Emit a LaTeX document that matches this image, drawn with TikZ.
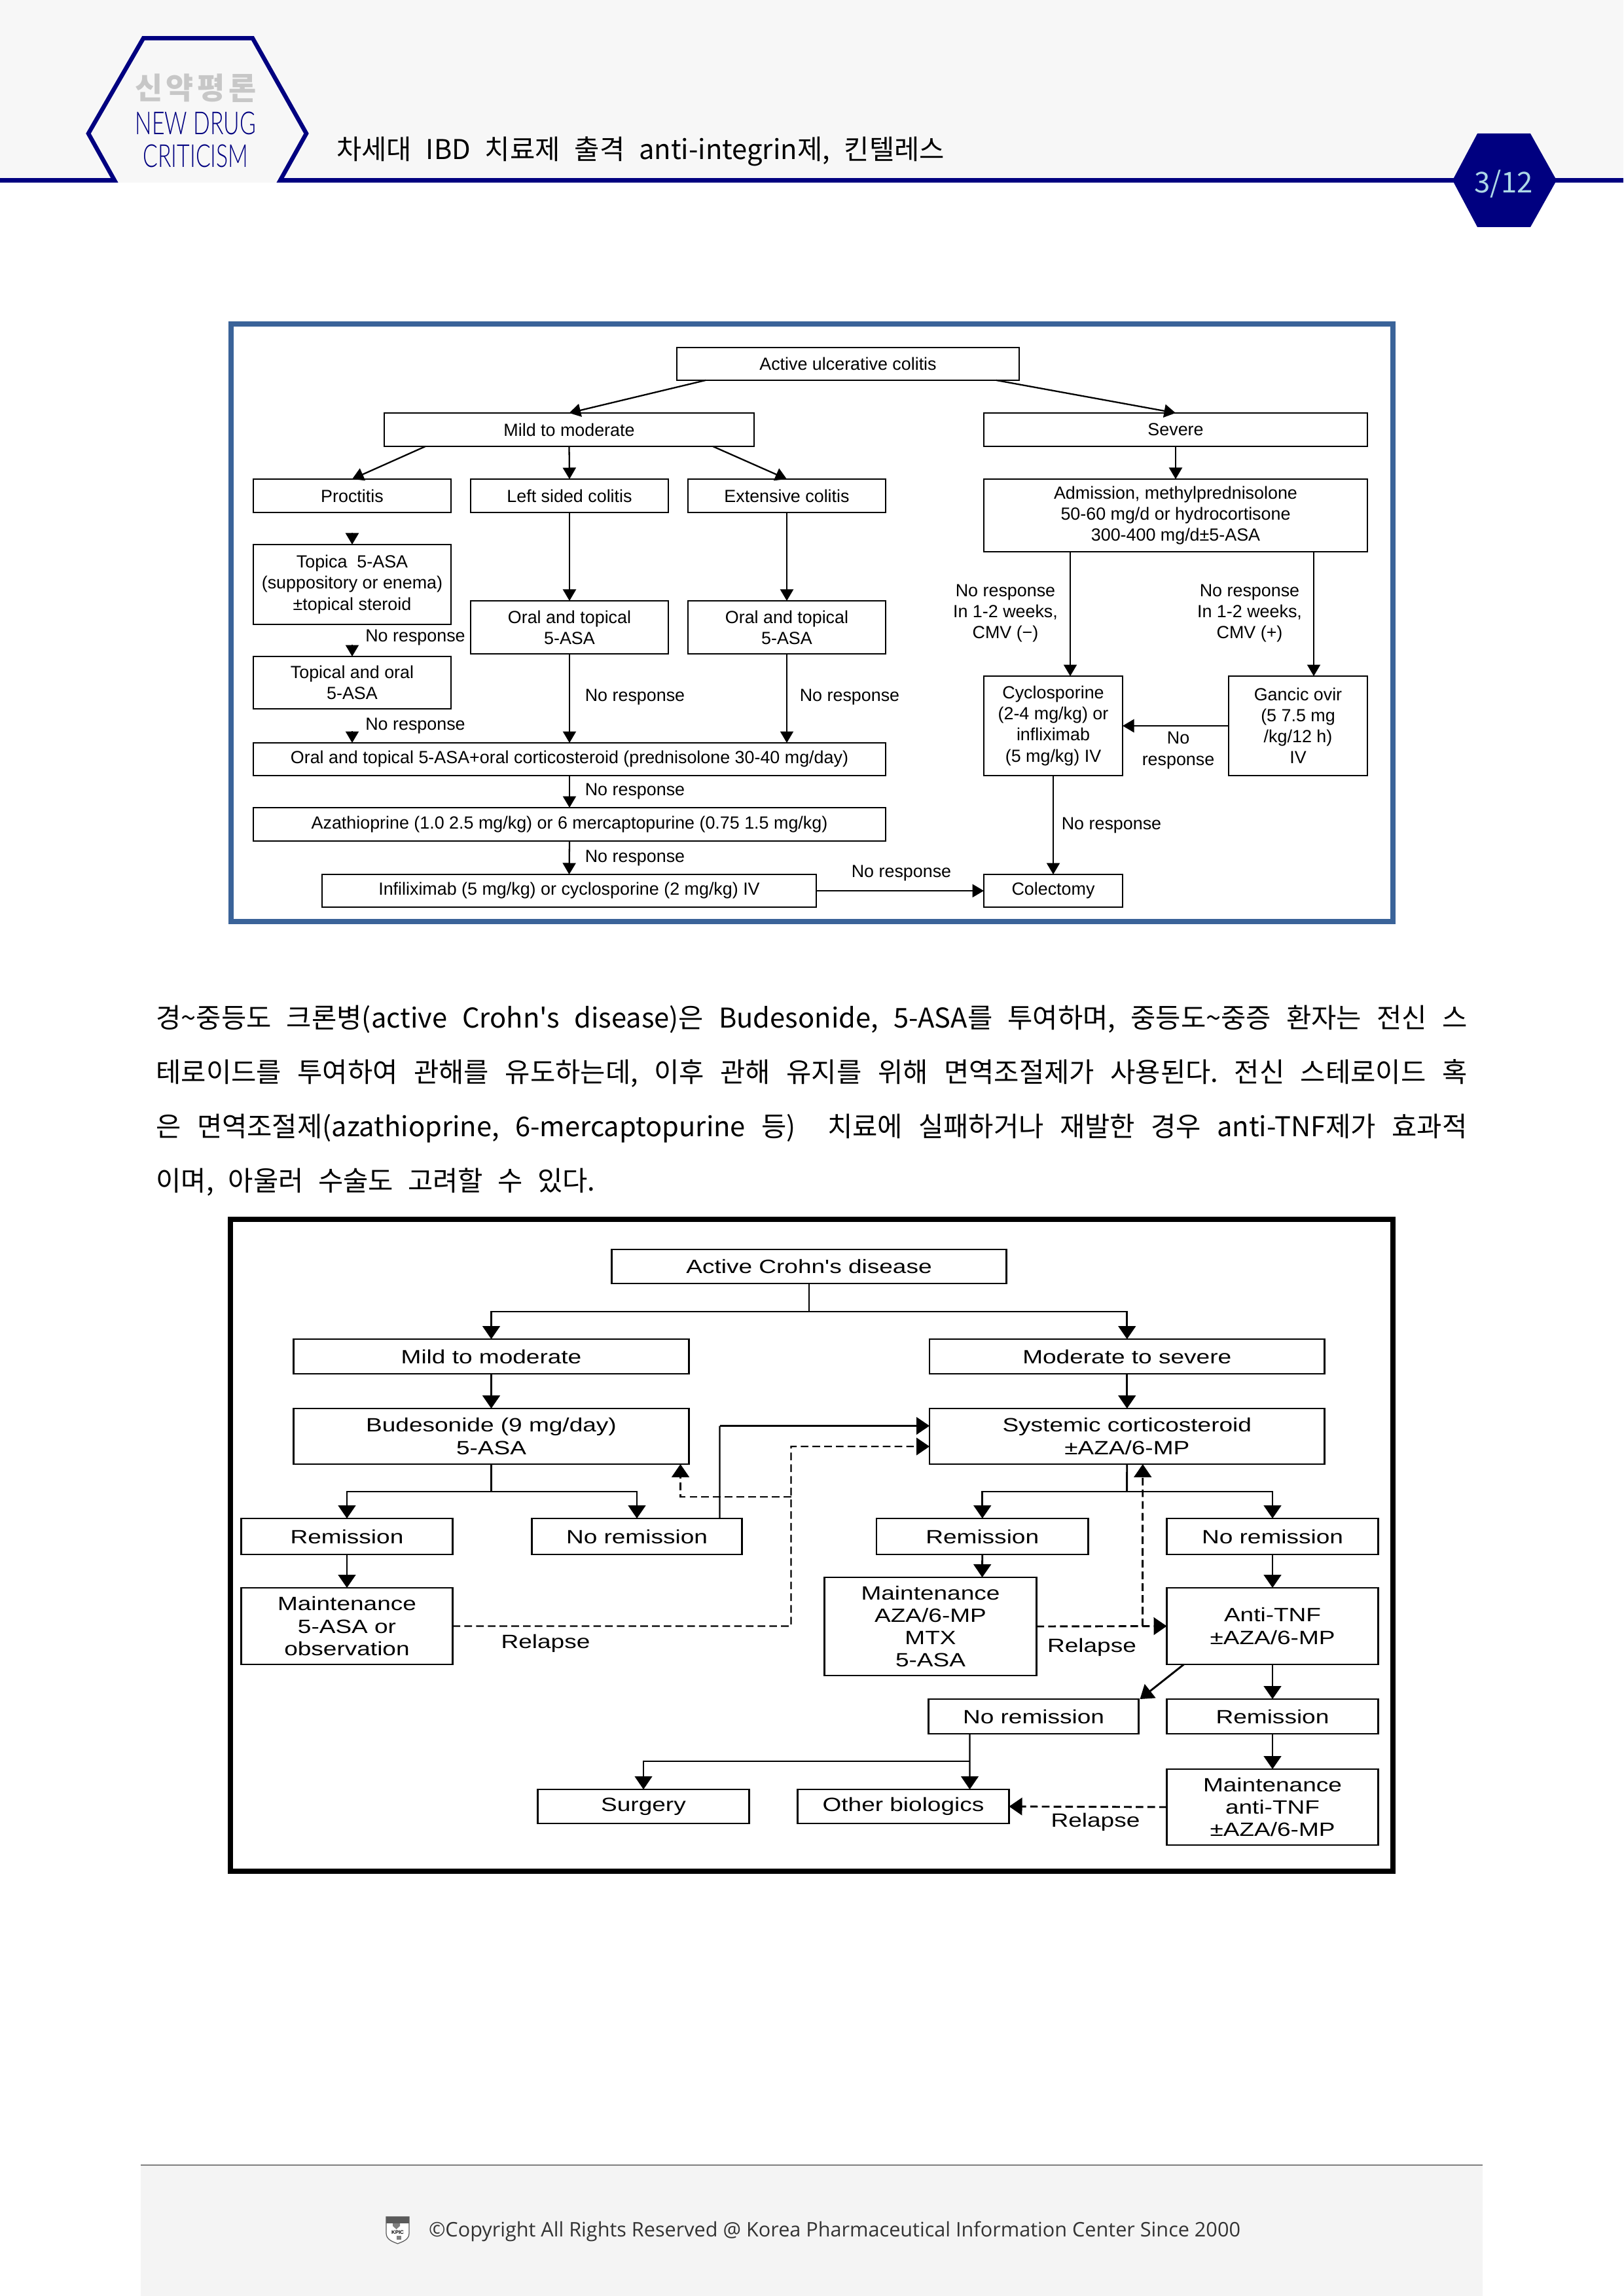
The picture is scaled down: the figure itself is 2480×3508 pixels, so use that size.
\documentclass[tikz,border=0pt]{standalone}
\usepackage{fontspec}
\usetikzlibrary{arrows.meta}
\setmainfont{Liberation Sans}
\newfontfamily\krf{Noto Sans CJK KR}
\newfontfamily\crf[FakeStretch=1.26]{Liberation Sans}
\newfontfamily\ndf[FakeStretch=0.70]{Lato Light}
\newfontfamily\opf{Open Sans}
\definecolor{navyc}{HTML}{000080}
\definecolor{headbg}{HTML}{F7F7F7}
\definecolor{footbg}{HTML}{F4F4F4}
\definecolor{ucblue}{HTML}{3A6399}
\definecolor{pagec}{HTML}{ADD8E6}
\definecolor{logogrey}{HTML}{5A5A5A}
\newcommand{\bx}[6]{%
  \pgfmathsetmacro\cxx{(#2+#4)/2}\pgfmathsetmacro\cyy{(#3+#5)/2}%
  \pgfmathsetmacro\wxx{(#4-#2)*0.24}\pgfmathsetmacro\hxx{(#5-#3)*0.24}%
  \node[boxn,minimum width=\wxx pt,minimum height=\hxx pt] (#1) at (\cxx,\cyy) {#6};}
\tikzset{
  boxn/.style={draw=black,fill=white,inner sep=0pt,outer sep=0pt,align=center},
  lbl/.style={inner sep=0pt,outer sep=0pt,align=center},
  ucarr/.style={-{Triangle[length=4.2pt,width=4.8pt]}},
  crarr/.style={-{Triangle[length=4.8pt,width=6.4pt]}},
  dashl/.style={dash pattern=on 2.8pt off 1.5pt},
  bodyt/.style={inner sep=0pt,outer sep=0pt,anchor=base west,font=\krf\fontsize{10}{12}\selectfont\frenchspacing},
}
\begin{document}
\begin{tikzpicture}[x=0.24pt,y=-0.24pt]
\useasboundingbox (0,0) rectangle (2480,3508);
\fill[white] (0,0) rectangle (2480,3508);
% ---------- header
\fill[headbg] (0,0) rectangle (2480,272);
\draw[navyc,line width=1.68pt] (0,275.5) -- (2480,275.5);
\begin{scope}
\clip (0,0) rectangle (2480,279);
\fill[headbg] (183,290) -- (135,204) -- (219,58.5) -- (386,58.5) -- (468,204) -- (420,290) -- cycle;
\draw[navyc,line width=1.56pt,miter limit=10] (183,290) -- (135,204) -- (219,58.5) -- (386,58.5) -- (468,204) -- (420,290);
\end{scope}
\node[lbl,anchor=base,font=\krf\bfseries\fontsize{11}{13}\selectfont,text=black!22] (logokr) at (299,152) {\makebox[44.6pt][s]{신\hfil 약\hfil 평\hfil 론}};
\node[lbl,anchor=base,font=\ndf\fontsize{11.6}{13}\selectfont,text=navyc] (logoa) at (299,205.7) {NEW DRUG};
\node[lbl,anchor=base,font=\ndf\fontsize{11.6}{13}\selectfont,text=navyc] (logob) at (299,256) {CRITICISM};
\node[lbl,anchor=base west,font=\krf\fontsize{10}{12}\selectfont\frenchspacing] (title) at (514,244) {\makebox[223pt][s]{차세대 IBD 치료제 출격 anti-integrin제, 킨텔레스}};
\fill[navyc] (2219,275.5) -- (2257,204) -- (2338,204) -- (2378,275.5) -- (2338,347) -- (2257,347) -- cycle;
\node[lbl,font=\krf\fontsize{10.5}{12}\selectfont,text=pagec] (pagenum) at (2297,281) {3/12};
% ---------- ulcerative colitis chart
\draw[ucblue,line width=1.9pt,fill=white] (353,495) rectangle (2128,1408);
\begin{scope}[shift={(1,0)},every node/.append style={font=\fontsize{6.45}{7.7}\selectfont},line width=0.55pt]
\bx{uactive}{1033}{531}{1556}{581}{Active ulcerative colitis}
\bx{umild}{586}{631}{1151}{682}{Mild to moderate}
\bx{usevere}{1502}{631}{2088}{682}{Severe}
\bx{uproct}{386}{732}{688}{783}{Proctitis}
\bx{uleft}{718}{732}{1020}{783}{Left sided colitis}
\bx{uext}{1050}{732}{1352}{783}{Extensive colitis}
\bx{utopica}{386}{832}{688}{954}{Topica\ \ 5-ASA\\(suppository or enema)\\±topical steroid}
\bx{utopoh}{386}{1003}{688}{1083}{Topical and oral\\5-ASA}
\bx{uorall}{718}{918}{1020}{999}{Oral and topical\\5-ASA}
\bx{uorale}{1050}{918}{1352}{999}{Oral and topical\\5-ASA}
\bx{ulong}{386}{1135}{1352}{1185}{Oral and topical 5-ASA+oral corticosteroid (prednisolone 30-40 mg/day)}
\bx{uaza}{386}{1234}{1352}{1285}{Azathioprine (1.0 2.5 mg/kg) or 6 mercaptopurine (0.75 1.5 mg/kg)}
\bx{uinf}{491}{1336}{1246}{1386}{Infiliximab (5 mg/kg) or cyclosporine (2 mg/kg) IV}
\bx{uadm}{1502}{732}{2088}{843}{Admission, methylprednisolone\\50-60 mg/d or hydrocortisone\\300-400 mg/d±5-ASA}
\bx{ucyc}{1502}{1033}{1714}{1185}{Cyclosporine\\(2-4 mg/kg) or\\infliximab\\(5 mg/kg) IV}
\bx{ugan}{1876}{1033}{2088}{1185}{Gancic ovir\\(5 7.5 mg\\/kg/12 h)\\IV}
\bx{ucol}{1502}{1336}{1714}{1386}{Colectomy}
\coordinate (up1) at (537,814);
\coordinate (up2) at (537,985);
\coordinate (up3) at (537,1117);
\draw[ucarr] ([xshift=-217.5*0.24pt]uactive.south) -- (umild.north);
\draw[ucarr] ([xshift=226.5*0.24pt]uactive.south) -- (usevere.north);
\draw[ucarr] ([xshift=-219.5*0.24pt]umild.south) -- (uproct.north);
\draw[ucarr] (umild.south) -- (uleft.north);
\draw[ucarr] ([xshift=219.5*0.24pt]umild.south) -- (uext.north);
\draw[ucarr] (up1) -- (utopica.north);
\draw[ucarr] (up2) -- (utopoh.north);
\draw[ucarr] (up3) -- ([xshift=-332*0.24pt]ulong.north);
\draw[ucarr] (uleft.south) -- (uorall.north);
\draw[ucarr] (uext.south) -- (uorale.north);
\draw[ucarr] (uorall.south) -- (ulong.north);
\draw[ucarr] (uorale.south) -- ([xshift=332*0.24pt]ulong.north);
\draw[ucarr] (ulong.south) -- (uaza.north);
\draw[ucarr] (uaza.south) -- (uinf.north);
\draw[ucarr] (uinf.east) -- (ucol.west);
\draw[ucarr] (usevere.south) -- (uadm.north);
\draw[ucarr] ([xshift=-161*0.24pt]uadm.south) -- ([xshift=26*0.24pt]ucyc.north);
\draw[ucarr] ([xshift=211*0.24pt]uadm.south) -- ([xshift=24*0.24pt]ugan.north);
\draw[ucarr] (ugan.west) -- (ucyc.east);
\draw[ucarr] (ucyc.south) -- (ucol.north);
\node[lbl] (ul1) at (633.5,974) {No response};
\node[lbl] (ul2) at (633.5,1109) {No response};
\node[lbl] (ul3) at (969,1065.5) {No response};
\node[lbl] (ul4) at (1297,1065.5) {No response};
\node[lbl] (ul5) at (969,1209) {No response};
\node[lbl] (ul6) at (969,1311) {No response};
\node[lbl] (ul7) at (1376,1334) {No response};
\node[lbl] (ul8) at (1535,937) {No response\\In 1-2 weeks,\\CMV (−)};
\node[lbl] (ul9) at (1908,937) {No response\\In 1-2 weeks,\\CMV (+)};
\node[lbl] (ul10) at (1697,1261.5) {No response};
\node[lbl] (ul11) at (1799,1146.5) {No\\response};
\end{scope}
% ---------- body text
\node[bodyt] (t1) at (238.5,1570) {\makebox[480.7pt][s]{경\textasciitilde 중등도 크론병(active Crohn's disease)은 Budesonide, 5-ASA를 투여하며, 중등도\textasciitilde 중증 환자는 전신 스}};
\node[bodyt] (t2) at (238.5,1653) {\makebox[480.7pt][s]{테로이드를 투여하여 관해를 유도하는데, 이후 관해 유지를 위해 면역조절제가 사용된다. 전신 스테로이드 혹}};
\node[bodyt] (t3) at (238.5,1736) {\makebox[480.7pt][s]{은 면역조절제(azathioprine, 6-mercaptopurine 등)~~치료에 실패하거나 재발한 경우 anti-TNF제가 효과적}};
\node[bodyt] (t4) at (238.5,1819) {\makebox[161pt][s]{이며, 아울러 수술도 고려할 수 있다.}};
% ---------- Crohn's chart
\draw[black,line width=1.7pt,fill=white] (352,1863) rectangle (2128,2859);
\begin{scope}[shift={(1.5,0)},every node/.append style={font=\crf\fontsize{7.05}{8.2}\selectfont},line width=0.7pt]
\bx{cactive}{933}{1909}{1536}{1961}{Active Crohn's disease}
\bx{cmild}{447}{2046}{1051}{2099}{Mild to moderate}
\bx{cmod}{1418.5}{2046}{2022}{2099}{Moderate to severe}
\bx{cbud}{447}{2152}{1051}{2237}{Budesonide (9 mg/day)\\5-ASA}
\bx{csys}{1418.5}{2152}{2022}{2237}{Systemic corticosteroid\\±AZA/6-MP}
\bx{cremL}{367}{2320}{690}{2375}{Remission}
\bx{cnoL}{811}{2320}{1132}{2375}{No remission}
\bx{cmaintL}{367}{2426}{690}{2543}{Maintenance\\5-ASA or\\observation}
\bx{cremR}{1337.5}{2320}{1661}{2375}{Remission}
\bx{cnoR}{1781}{2320}{2104}{2375}{No remission}
\bx{cmaintR}{1258}{2410}{1582}{2560}{Maintenance\\AZA/6-MP\\MTX\\5-ASA}
\bx{canti}{1781}{2426}{2104}{2543}{Anti-TNF\\±AZA/6-MP}
\bx{cno2}{1417}{2596}{1738}{2649}{No remission}
\bx{crem2}{1781}{2596}{2104}{2649}{Remission}
\bx{cmaint3}{1781}{2703}{2104}{2819}{Maintenance\\anti-TNF\\±AZA/6-MP}
\bx{cother}{1217}{2734}{1540}{2786}{Other biologics}
\bx{csurg}{820}{2734}{1143}{2786}{Surgery}
\coordinate (j1) at (1234.5,2004);
\coordinate (j2) at (749,2279);
\coordinate (j3) at (1720,2279);
\coordinate (k1) at (1480,2691);
\coordinate (s1) at (1098,2178.5);
\coordinate (d1) at (1207,2484.5);
\coordinate (d2) at (1207,2210);
\coordinate (d3) at (1207,2287);
\coordinate (d4) at (1038,2287);
\coordinate (r1) at (1744,2484.5);
\draw (cactive.south) -- (j1);
\draw[crarr] (j1) -| (cmild.north);
\draw[crarr] (j1) -| (cmod.north);
\draw[crarr] (cmild.south) -- (cbud.north);
\draw[crarr] (cmod.south) -- (csys.north);
\draw (cbud.south) -- (j2);
\draw[crarr] (j2) -| (cremL.north);
\draw[crarr] (j2) -| (cnoL.north);
\draw (csys.south) -- (j3);
\draw[crarr] (j3) -| (cremR.north);
\draw[crarr] (j3) -| (cnoR.north);
\draw[crarr] (cremL.south) -- (cmaintL.north);
\draw[crarr] (cremR.south) -- ([xshift=79*0.24pt]cmaintR.north);
\draw[crarr] (cnoR.south) -- (canti.north);
\draw[crarr] (canti.south) -- (crem2.north);
\draw[crarr] (crem2.south) -- (cmaint3.north);
\draw[crarr] ([xshift=-135.5*0.24pt]canti.south) -- ([xshift=162.5*0.24pt]cno2.north);
\draw[crarr,line width=0.5pt] ([xshift=-97.5*0.24pt]cno2.south) -- ([xshift=101.5*0.24pt]cother.north);
\draw[crarr,line width=0.5pt] (k1) -| (csurg.north);
\draw[line width=0.5pt] ([xshift=126.5*0.24pt]cnoL.north) -- (s1);
\draw[crarr,line width=0.5pt] (s1) -- ([yshift=16*0.24pt]csys.west);
\draw[crarr,dashl,line width=0.5pt] (cmaintL.east) -- (d1) -- (d2) -- ([yshift=-15.5*0.24pt]csys.west);
\draw[crarr,dashl] (d3) -- (d4) -- ([xshift=289*0.24pt]cbud.south);
\draw[crarr,dashl] (cmaintR.east) -- (canti.west);
\draw[crarr,dashl] (r1) -- ([xshift=24*0.24pt]csys.south);
\draw[crarr,dashl] (cmaint3.west) -- (cother.east);
\node[lbl] (cl1) at (832,2511) {Relapse};
\node[lbl] (cl2) at (1666.5,2517) {Relapse};
\node[lbl] (cl3) at (1672,2784) {Relapse};
\end{scope}
% ---------- footer
\fill[footbg] (215,3308) rectangle (2265,3508);
\draw[black!50,line width=0.6pt] (215,3308) -- (2265,3308);
\fill[white] (590,3387) -- (625,3387) -- (625,3412) .. controls (625,3422) and (615,3425) .. (607.5,3428) .. controls (600,3425) and (590,3422) .. (590,3412) -- cycle;
\fill[logogrey] (590,3387) rectangle (625,3397);
\draw[logogrey,line width=0.3pt] (590,3387) -- (625,3387) -- (625,3412) .. controls (625,3422) and (615,3425) .. (607.5,3428) .. controls (600,3425) and (590,3422) .. (590,3412) -- cycle;
\fill[gray] (600,3397) -- (611,3397) -- (611,3401) -- (605.5,3406) -- (600,3401) -- cycle;
\fill[gray] (606,3416) rectangle (613,3422);
\node[lbl,font=\bfseries\fontsize{1.9}{2}\selectfont] (kpic) at (607.5,3411) {KPIC};
\node[lbl,anchor=west,font=\opf\fontsize{7.35}{8.5}\selectfont,text=black!80] (foot) at (655,3409) {©Copyright All Rights Reserved @ Korea Pharmaceutical Information Center Since 2000};
\end{tikzpicture}
\end{document}
